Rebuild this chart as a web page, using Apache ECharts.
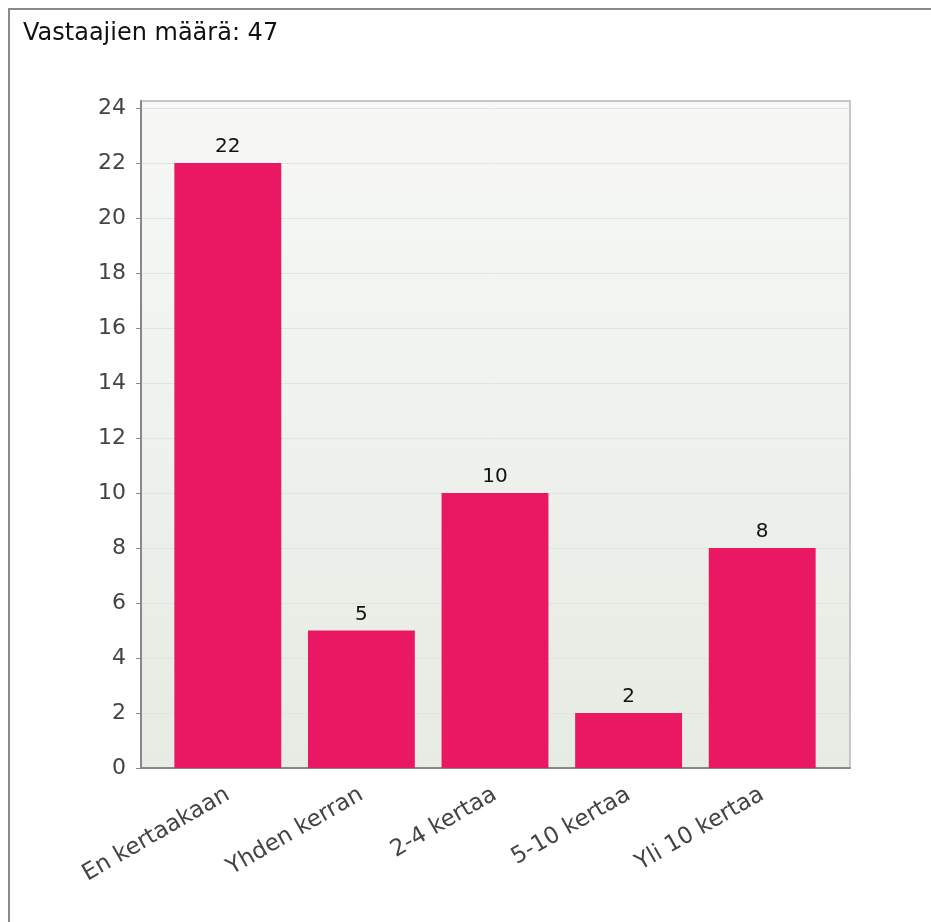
<!DOCTYPE html>
<html>
<head>
<meta charset="utf-8">
<script src="https://cdn.jsdelivr.net/npm/echarts@6/dist/echarts.min.js"></script>
<style>
html,body{margin:0;padding:0;background:#fff;}
#chart{width:931px;height:922px;}
</style>
</head>
<body>
<div id="chart"></div>
<script>
var titleText = 'Vastaajien määrä: 47';
var categories = ['En kertaakaan', 'Yhden kerran', '2-4 kertaa', '5-10 kertaa', 'Yli 10 kertaa'];
var values = [22, 5, 10, 2, 8];
var yMin = 0;
var yMax = 24;
var yStep = 2;

var FONT = 'DejaVu Sans';
var chart = echarts.init(document.getElementById('chart'), null, {renderer: 'canvas'});
var option = {
  animation: false,
  backgroundColor: '#ffffff',
  title: {
    text: titleText,
    left: 18, top: 17,
    textStyle: {fontFamily: FONT, fontSize: 24, fontWeight: 'normal', color: '#111'}
  },
  graphic: [
    {type: 'line', shape: {x1: 8, y1: 9, x2: 931, y2: 9}, style: {stroke: '#8a8a8a', lineWidth: 2}},
    {type: 'line', shape: {x1: 9, y1: 9, x2: 9, y2: 922}, style: {stroke: '#8a8a8a', lineWidth: 2}}
  ],
  grid: [
    // A: tick labels and split lines
    {left: 141, right: 81, top: 108, bottom: 154, containLabel: false},
    // B: plot frame and background
    {left: 141, right: 81, top: 101, bottom: 154, show: true, borderColor: '#c6c6c6', borderWidth: 2,
      backgroundColor: new echarts.graphic.LinearGradient(0, 0, 0, 1, [
        {offset: 0, color: '#f7f8f6'}, {offset: 1, color: '#e6ebe3'}])},
    // C: bars and categories
    {left: 161, right: 102, top: 108, bottom: 154}
  ],
  xAxis: [
    {type: 'category', gridIndex: 0, data: categories, show: false},
    {type: 'category', gridIndex: 1, data: categories, axisLine: {show: true, lineStyle: {color: '#888', width: 2}},
      axisTick: {show: false}, axisLabel: {show: false}, splitLine: {show: false}},
    {type: 'category', gridIndex: 2, data: categories, axisLine: {show: false}, axisTick: {show: false},
      axisLabel: {rotate: 30, margin: 25, fontFamily: FONT, fontSize: 23, color: '#444', interval: 0}}
  ],
  yAxis: [
    {type: 'value', gridIndex: 0, min: yMin, max: yMax, interval: yStep,
      axisLine: {show: false},
      axisTick: {show: true, length: 5, inside: false, lineStyle: {color: '#888', width: 1}},
      axisLabel: {margin: 15, fontFamily: FONT, fontSize: 22, color: '#444'},
      splitLine: {show: true, lineStyle: {color: '#e2e4e0', width: 1}}},
    {type: 'value', gridIndex: 1, min: 0, max: 1, show: true,
      axisLine: {show: true, lineStyle: {color: '#888', width: 2}},
      axisTick: {show: false}, axisLabel: {show: false}, splitLine: {show: false}},
    {type: 'value', gridIndex: 2, min: yMin, max: yMax, interval: yStep, show: false}
  ],
  series: [{
    type: 'bar',
    xAxisIndex: 2, yAxisIndex: 2,
    data: values,
    barWidth: '80%',
    itemStyle: {color: '#EA1763'},
    label: {show: true, position: 'top', distance: 6, fontFamily: FONT, fontSize: 20, color: '#111'}
  }]
};
chart.setOption(option);
</script>
</body>
</html>
